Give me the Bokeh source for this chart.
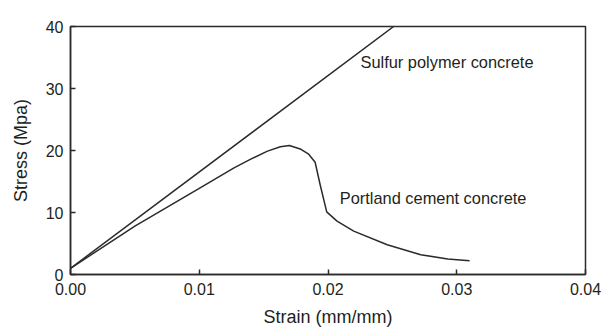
from bokeh.plotting import figure
from bokeh.models import FixedTicker, NumeralTickFormatter, Range1d
from bokeh.core.properties import value
from bokeh.embed import file_html
from bokeh.resources import INLINE

# Data
sulfur_strain = [0.0, 0.0251]
sulfur_stress = [1.0, 40.0]

portland_strain = [0.0, 0.0050, 0.0101, 0.0127, 0.0140, 0.0153, 0.0163, 0.0170,
                   0.0179, 0.0185, 0.0190, 0.0194, 0.0199, 0.0207, 0.0220, 0.0246,
                   0.0272, 0.0293, 0.0310]
portland_stress = [1.0, 7.8, 14.0, 17.2, 18.6, 19.9, 20.6, 20.8,
                   20.2, 19.4, 18.1, 14.4, 10.1, 8.6, 7.0, 4.8,
                   3.2, 2.5, 2.2]

label_text = ["Sulfur polymer concrete", "Portland cement concrete"]
label_x = [0.02252, 0.02091]
label_y = [34.3, 12.4]

x_ticks = [0.0, 0.01, 0.02, 0.03, 0.04]
y_ticks = [0, 10, 20, 30, 40]

FONT = "Liberation Sans"
INK = "#231f20"
LINE = "#2b2b2b"

p = figure(width=601, height=329, output_backend="svg", toolbar_location=None,
           x_range=Range1d(0, 0.04), y_range=Range1d(0, 40),
           min_border_left=70, min_border_right=16, min_border_top=26, min_border_bottom=52,
           x_axis_label="Strain (mm/mm)", y_axis_label="Stress (Mpa)")

p.xgrid.visible = False
p.ygrid.visible = False
p.outline_line_color = LINE
p.outline_line_width = 1.5
p.background_fill_color = "white"
p.border_fill_color = "white"

p.line(sulfur_strain, sulfur_stress, line_color=LINE, line_width=1.5)
p.line(portland_strain, portland_stress, line_color=LINE, line_width=1.5,
       line_join="round")

p.text(x=label_x, y=label_y, text=label_text, text_font=value(FONT),
       text_font_size="16.4px", text_color=INK, text_align="left", text_baseline="middle")

for ax in (p.xaxis[0], p.yaxis[0]):
    ax.axis_line_color = LINE
    ax.axis_line_width = 1.5
    ax.major_tick_line_color = LINE
    ax.major_tick_line_width = 1.5
    ax.major_tick_in = 5
    ax.major_tick_out = 0
    ax.minor_tick_line_color = None
    ax.major_label_text_font = FONT
    ax.major_label_text_font_size = "16px"
    ax.major_label_text_color = INK
    ax.axis_label_text_font = FONT
    ax.axis_label_text_font_size = "18px"
    ax.axis_label_text_font_style = "normal"
    ax.axis_label_text_color = INK

p.xaxis[0].ticker = FixedTicker(ticks=x_ticks)
p.yaxis[0].ticker = FixedTicker(ticks=y_ticks)
p.xaxis[0].formatter = NumeralTickFormatter(format="0.00")
p.yaxis[0].formatter = NumeralTickFormatter(format="0")
p.xaxis[0].major_label_standoff = 8
p.yaxis[0].major_label_standoff = 7
p.xaxis[0].axis_label_standoff = 9
p.yaxis[0].axis_label_standoff = 12

open("out.html", "w").write(file_html(p, INLINE))
